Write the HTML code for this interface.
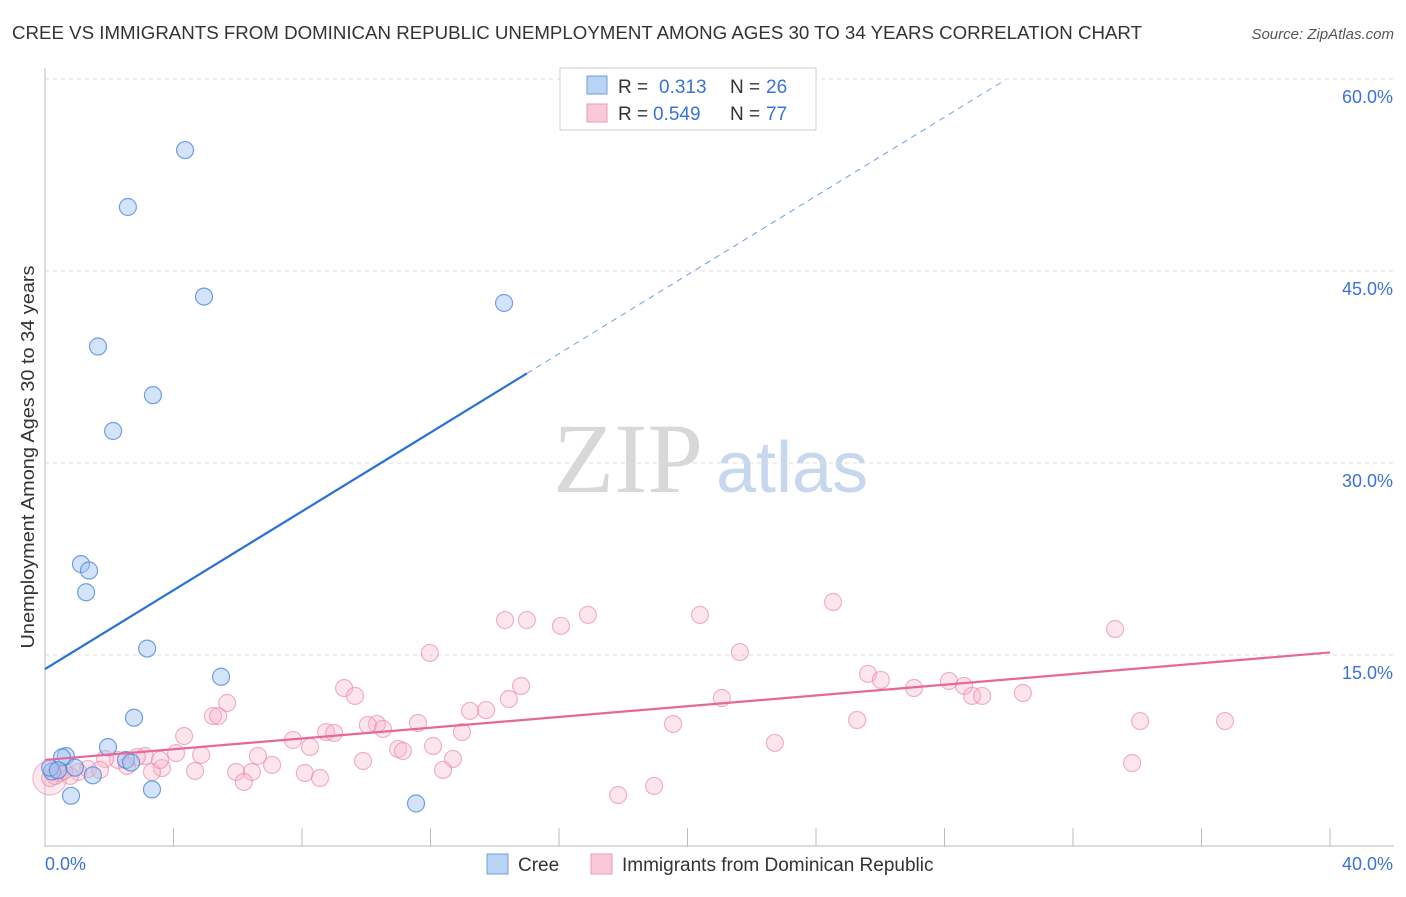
<!DOCTYPE html>
<html><head><meta charset="utf-8"><style>
body{margin:0;background:#fff;font-family:"Liberation Sans",sans-serif;}
svg text{font-family:"Liberation Sans",sans-serif;}
</style></head><body>
<svg id="chart" width="1406" height="892">
<text x="12" y="39" font-size="18" fill="#333" textLength="1130" lengthAdjust="spacingAndGlyphs">CREE VS IMMIGRANTS FROM DOMINICAN REPUBLIC UNEMPLOYMENT AMONG AGES 30 TO 34 YEARS CORRELATION CHART</text>
<text x="1394" y="39" font-size="15" fill="#555" font-style="italic" text-anchor="end">Source: ZipAtlas.com</text>
<text x="553" y="492" font-size="100" fill="#d8d8d8" style="font-family:'Liberation Serif',serif">ZIP</text>
<text x="716" y="492" font-size="72" fill="#c7d8ee">atlas</text>
<g id="grid"></g>
<g id="axes"></g>
<g id="marks"></g>
<text transform="translate(34,457) rotate(-90)" font-size="18" fill="#333" text-anchor="middle" textLength="383" lengthAdjust="spacingAndGlyphs">Unemployment Among Ages 30 to 34 years</text>
<g>
<rect x="560" y="68" width="256" height="62" fill="#fff" stroke="#ccc"/>
<rect x="587" y="76" width="20" height="18" fill="#b9d3f5" stroke="#6d9fe0"/>
<rect x="587" y="104" width="20" height="18" fill="#fac9d8" stroke="#ec98b3"/>
<text x="618" y="93" font-size="19" fill="#333">R = </text><text x="659" y="93" font-size="19" fill="#3a72d8">0.313</text>
<text x="730" y="93" font-size="19" fill="#333">N = </text><text x="766" y="93" font-size="19" fill="#3a72d8">26</text>
<text x="618" y="120" font-size="19" fill="#333">R = </text><text x="653" y="120" font-size="19" fill="#3a72d8">0.549</text>
<text x="730" y="120" font-size="19" fill="#333">N = </text><text x="766" y="120" font-size="19" fill="#3a72d8">77</text>
</g>
<g>
<rect x="487" y="854" width="21" height="20" fill="#b9d3f5" stroke="#6d9fe0"/>
<text x="518" y="871" font-size="19" fill="#333">Cree</text>
<rect x="591" y="854" width="21" height="20" fill="#fac9d8" stroke="#ec98b3"/>
<text x="622" y="871" font-size="19" fill="#333">Immigrants from Dominican Republic</text>
</g>
</svg>
<script>
const xTicks=[0,4,8,12,16,20,24,28,32,36,40];
const yTicks=[15,30,45,60];
const yTickLabels=["15.0%","30.0%","45.0%","60.0%"];
const creeX=[4.36,2.58,4.95,14.29,1.65,3.36,2.12,1.12,1.37,1.28,3.18,5.48,2.77,1.96,0.65,0.22,0.16,0.93,1.49,2.52,2.68,0.81,3.33,11.55,0.53,0.40];
const creeY=[54.45,50.0,43.0,42.5,39.1,35.3,32.5,22.1,21.6,19.9,15.5,13.3,10.1,7.8,7.1,5.9,6.2,6.2,5.6,6.8,6.6,4.0,4.5,3.4,7.0,6.0];
const domX=[24.53,33.31,20.39,16.90,15.00,14.32,16.06,11.98,21.63,25.62,26.02,28.14,28.61,27.05,28.86,29.17,30.44,9.31,9.65,5.67,21.07,14.82,14.44,13.23,13.73,5.23,5.39,25.28,19.55,34.09,36.73,10.33,10.05,10.52,11.61,8.75,9.00,12.98,4.33,7.72,8.25,12.08,10.99,11.14,4.08,4.86,3.11,6.63,22.72,9.90,12.70,7.07,2.27,1.87,1.34,3.64,3.33,4.67,5.95,6.44,8.09,8.56,12.39,6.19,17.84,18.96,33.84,1.71,1.03,0.47,0.31,0.16,0.78,2.55,2.86,3.58,0.59];
const domY=[19.14,17.03,18.13,18.13,17.73,17.73,17.27,15.16,15.23,13.52,13.05,12.97,12.58,12.42,11.80,11.80,12.03,12.42,11.80,11.25,11.64,12.58,11.56,10.63,10.70,10.23,10.23,9.92,9.61,9.84,9.84,9.61,9.53,9.22,9.69,8.98,8.91,8.98,8.67,8.36,7.81,7.89,7.66,7.50,7.34,7.19,7.11,7.11,8.13,6.72,6.88,6.41,6.80,6.88,6.09,6.17,5.86,5.94,5.86,5.86,5.78,5.39,6.02,5.08,4.06,4.77,6.56,6.02,5.86,5.78,5.55,5.39,5.55,6.33,7.03,6.80,5.94];
const creeLine=[13.9,1.54];
const domLine=[6.8,0.21];
const sx=v=>45+v*32.125, sy=v=>847-v*12.8;
const NS="http://www.w3.org/2000/svg";
function mk(parent,tag,attrs){const e=document.createElementNS(NS,tag);for(const k in attrs)e.setAttribute(k,attrs[k]);document.getElementById(parent).appendChild(e);return e;}
yTicks.forEach((t,i)=>{
 const g=mk('grid','line',{x1:45,x2:1394,y1:sy(t),y2:sy(t),stroke:'#ddd','stroke-dasharray':'4,4'});
 
 
 const l=mk('axes','text',{x:1393,y:sy(t)+24,'font-size':18,fill:'#3a72d8','text-anchor':'end'});
 l.textContent=yTickLabels[i];
 
 
});
let a=mk('axes','line',{x1:45,x2:45,y1:68,y2:847,stroke:'#bbb'});


a=mk('axes','line',{x1:45,x2:1394,y1:846,y2:846,stroke:'#bbb'});


xTicks.forEach(t=>{
 const k=mk('axes','line',{x1:sx(t),x2:sx(t),y1:828,y2:846,stroke:'#bbb'});
 
 
});
let t0=mk('axes','text',{x:45,y:870,'font-size':18,fill:'#3a72d8'});t0.textContent='0.0%';


let t1=mk('axes','text',{x:1393,y:870,'font-size':18,fill:'#3a72d8','text-anchor':'end'});t1.textContent='40.0%';


let big=mk('marks','circle',{cx:sx(0.15),cy:sy(5.4),r:17,fill:'rgba(248,180,200,0.3)',stroke:'rgba(232,130,165,0.5)','stroke-width':1.2});


domX.forEach((x,i)=>{
 const c=mk('marks','circle',{cx:sx(x),cy:sy(domY[i]),r:8.5,fill:'rgba(248,180,200,0.35)',stroke:'rgba(232,130,165,0.6)','stroke-width':1.2});
 
 
});
creeX.forEach((x,i)=>{
 const c=mk('marks','circle',{cx:sx(x),cy:sy(creeY[i]),r:8.5,fill:'rgba(160,195,240,0.45)',stroke:'rgba(70,130,220,0.75)','stroke-width':1.2});
 
 
});
let ln=mk('marks','line',{x1:sx(0),y1:sy(creeLine[0]),x2:sx(15),y2:sy(creeLine[0]+creeLine[1]*15),stroke:'#2a6fd6','stroke-width':2.2});


ln=mk('marks','line',{x1:sx(15),y1:sy(creeLine[0]+creeLine[1]*15),x2:sx(29.9),y2:sy(creeLine[0]+creeLine[1]*29.9),stroke:'#6d9fe0','stroke-width':1,'stroke-dasharray':'6,5'});


ln=mk('marks','line',{x1:sx(0),y1:sy(domLine[0]),x2:sx(40),y2:sy(domLine[0]+domLine[1]*40),stroke:'#e8679a','stroke-width':2.2});


</script>
</body></html>
